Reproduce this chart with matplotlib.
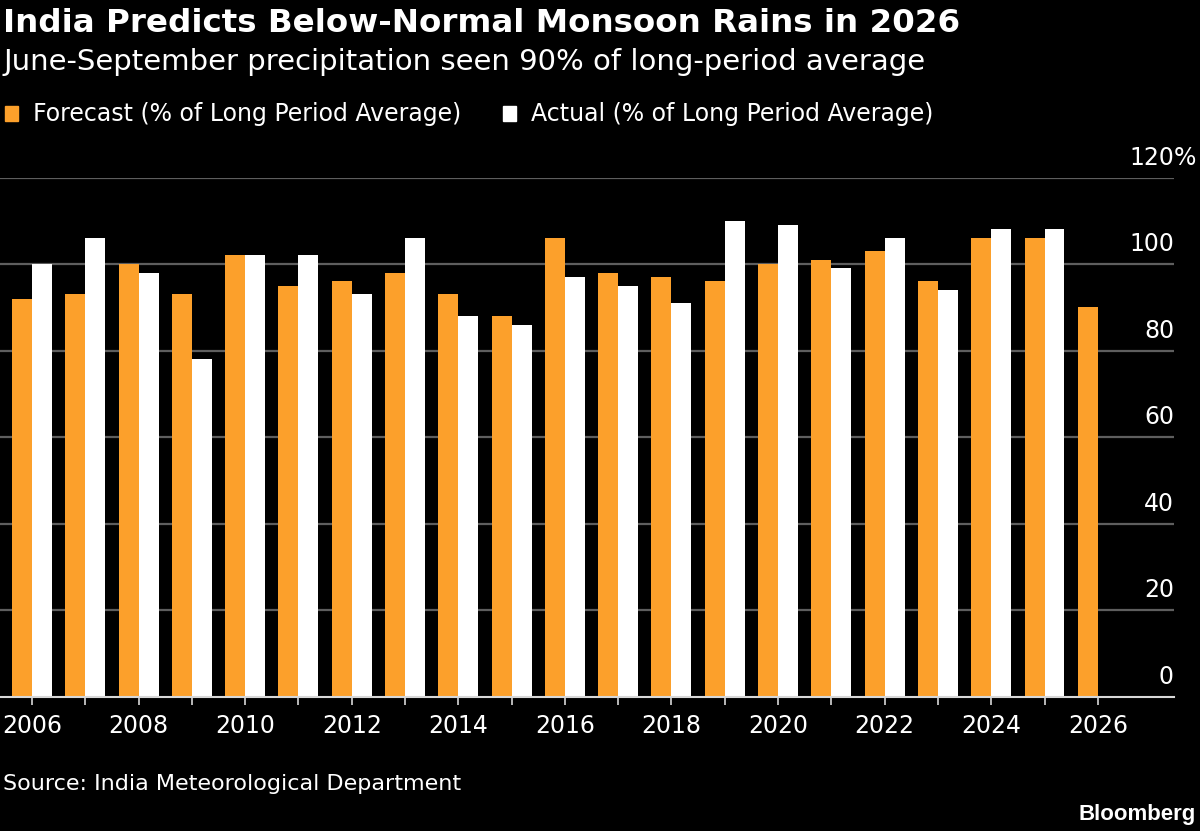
import numpy as np
import matplotlib
matplotlib.use('Agg')
import matplotlib.pyplot as plt
from matplotlib import font_manager
from matplotlib.transforms import blended_transform_factory

# data
years = list(range(2006, 2027))
forecast = [92, 93, 100, 93, 102, 95, 96, 98, 93, 88, 106, 98, 97, 96, 100, 101, 103, 96, 106, 106, 90]
actual = [100, 106, 98, 78, 102, 102, 93, 106, 88, 86, 97, 95, 91, 110, 109, 99, 106, 94, 108, 108, np.nan]
yticks = [0, 20, 40, 60, 80, 100, 120]

ORANGE = '#FCA02B'
WHITE = '#FFFFFF'
BG = '#000000'
GRID = '#5e5e5e'

names = {f.name for f in font_manager.fontManager.ttflist}
narrow = 'Liberation Sans Narrow' if 'Liberation Sans Narrow' in names else 'DejaVu Sans'
plt.rcParams['font.family'] = [narrow, 'DejaVu Sans']

W, H = 1200, 831
fig = plt.figure(figsize=(W / 100, H / 100), dpi=100, facecolor=BG)

def px(x, y):
    return x / W, 1 - y / H

left, right = 0 / W, 1174 / W
bottom, top = 1 - 697 / H, 1 - 177.5 / H
ax = fig.add_axes([left, bottom, right - left, top - bottom], facecolor=BG)

x = np.arange(len(years))
bw = 0.375
ax.bar(x - bw / 2, forecast, width=bw, color=ORANGE, zorder=3)
ax.bar(x + bw / 2, actual, width=bw, color=WHITE, zorder=3)

ax.set_xlim(-0.6, len(years) - 1 + 1.43)
ax.set_ylim(0, 120)

for t in yticks[1:]:
    ax.axhline(t, color=GRID, lw=1.6, zorder=1)

for s in ['top', 'right', 'left']:
    ax.spines[s].set_visible(False)
ax.spines['bottom'].set_color('#d8d8d8')
ax.spines['bottom'].set_linewidth(1.5)
ax.spines['bottom'].set_zorder(4)

ax.set_yticks([])
ax.set_xticks(x)
ax.set_xticklabels([str(y) if (y % 2 == 0) else '' for y in years])
ax.tick_params(axis='x', colors='#d8d8d8', length=6, width=1.2, pad=6,
               labelsize=17, labelcolor=WHITE)

tr = blended_transform_factory(ax.transAxes, ax.transData)
for t in yticks:
    ax.text(1.0, t + 3.0, str(t), transform=tr, ha='right', va='baseline',
            fontsize=17, color=WHITE)
ax.text(1.0, yticks[-1] + 3.0, '%', transform=tr, ha='left', va='baseline',
        fontsize=17, color=WHITE)

fig.text(*px(3, 32), 'India Predicts Below-Normal Monsoon Rains in 2026',
         fontsize=23.4, fontweight='bold', color=WHITE, ha='left', va='baseline',
         family=['DejaVu Sans'])
fig.text(*px(3, 70), 'June-September precipitation seen 90% of long-period average',
         fontsize=21, color=WHITE, ha='left', va='baseline')

# legend
fig.patches.append(plt.Rectangle(px(5, 121), 13 / W, 15 / H, transform=fig.transFigure,
                                 color=ORANGE, figure=fig))
fig.text(*px(33, 121), 'Forecast (% of Long Period Average)', fontsize=17,
         color=WHITE, ha='left', va='baseline')
fig.patches.append(plt.Rectangle(px(503, 121), 13 / W, 15 / H, transform=fig.transFigure,
                                 color=WHITE, figure=fig))
fig.text(*px(531, 121), 'Actual (% of Long Period Average)', fontsize=17,
         color=WHITE, ha='left', va='baseline')

fig.text(*px(3, 790), 'Source: India Meteorological Department', fontsize=16,
         color=WHITE, ha='left', va='baseline')
fig.text(*px(1196, 820), 'Bloomberg', fontsize=16, fontweight='bold',
         color=WHITE, ha='right', va='baseline', family=['Liberation Sans', 'DejaVu Sans'])

fig.savefig('out.png', dpi=100, facecolor=BG)
